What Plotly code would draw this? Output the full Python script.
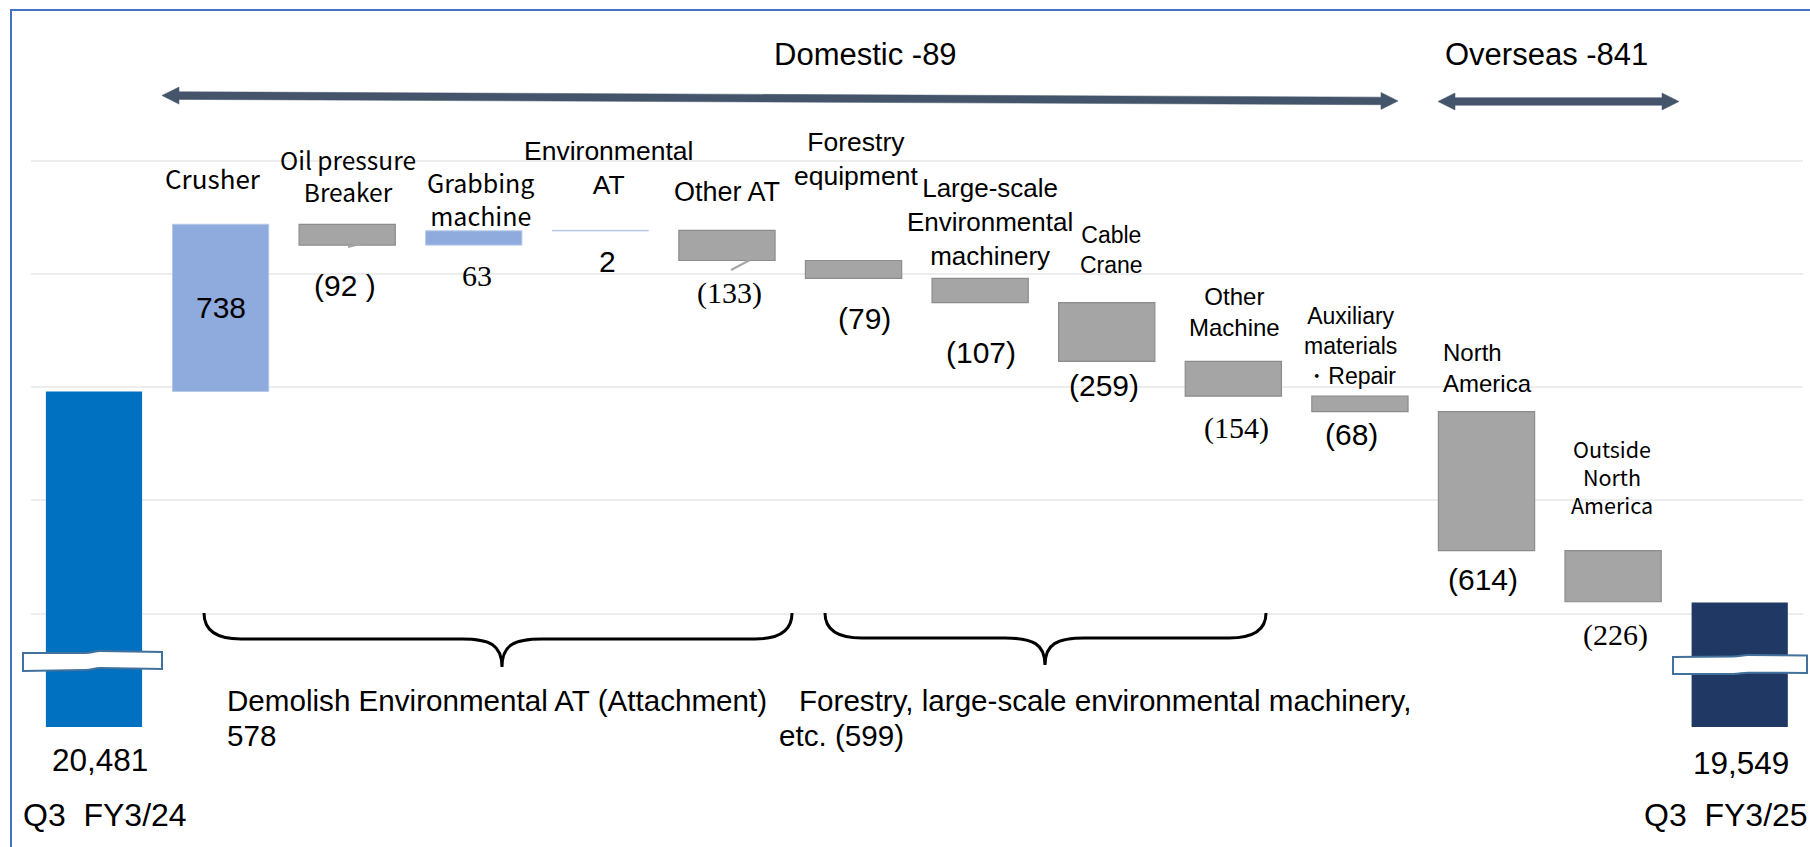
import plotly.graph_objects as go

# ---------------- data ----------------
categories = ["Q3 FY3/24", "Crusher", "Oil pressure Breaker", "Grabbing machine",
              "Environmental AT", "Other AT", "Forestry equipment",
              "Large-scale Environmental machinery", "Cable Crane", "Other Machine",
              "Auxiliary materials・Repair", "North America", "Outside North America",
              "Q3 FY3/25"]
start_value = 20481
end_value = 19549
changes = [738, -92, 63, 2, -133, -79, -107, -259, -154, -68, -614, -226]
top_labels = ["Crusher", "Oil pressure<br>Breaker", "Grabbing<br>machine",
              "Environmental<br>AT", "Other AT", "Forestry<br>equipment",
              "Large-scale<br>Environmental<br>machinery", "Cable<br>Crane",
              "Other<br>Machine", "Auxiliary<br>materials<br>・Repair",
              "North<br>America", "Outside<br>North<br>America"]
value_labels = ["738", "(92 )", "63", "2", "(133)", "(79)", "(107)", "(259)",
                "(154)", "(68)", "(614)", "(226)"]
total_labels = ["20,481", "19,549"]
period_labels = ["Q3  FY3/24", "Q3  FY3/25"]
group_labels = ["Domestic -89", "Overseas -841"]
brace_lines = [["Demolish Environmental AT (Attachment)", "578"],
               ["Forestry, large-scale environmental machinery,", "etc. (599)"]]

# ---------------- styles / layout helpers ----------------
W, H = 1810, 847
SANS = "Liberation Sans, Arial, sans-serif"
SERIF = "Liberation Serif, Times New Roman, serif"
JP = "Noto Sans CJK JP, sans-serif"
C_START, C_UP, C_DOWN, C_END = "#0070C0", "#8FAADC", "#A5A5A5", "#203864"


def px(x):
    return x / W


def py(y):
    return 1 - y / H


def pt(x, y):
    return f"{px(x):.5f},{py(y):.5f}"


# build floating bars from the data
bases, heights, colors, lcolors, lwidths = [0], [start_value], [C_START], [C_START], [0]
tops, bottoms = [], []
running = start_value
for d in changes:
    if d >= 0:
        bases.append(running); heights.append(d)
        colors.append(C_UP); lcolors.append("#b4c7e7"); lwidths.append(1)
    else:
        bases.append(running + d); heights.append(-d)
        colors.append(C_DOWN); lcolors.append("#8c8c8c"); lwidths.append(1.2)
    tops.append(max(running, running + d))
    bottoms.append(min(running, running + d))
    running += d
bases.append(0); heights.append(end_value)
colors.append(C_END); lcolors.append(C_END); lwidths.append(0)

fig = go.Figure()
fig.add_trace(go.Bar(
    x=categories, y=heights, base=bases,
    marker=dict(color=colors, line=dict(color=lcolors, width=lwidths)),
    hoverinfo="skip", showlegend=False,
))

ann = []
# category labels above bars
top_font = [(JP, 26), (JP, 24.5), (JP, 25), (SANS, 26.5), (SANS, 27), (SANS, 26.5),
            (SANS, 26), (SANS, 23), (SANS, 24), (SANS, 23), (SANS, 24), (JP, 21.5)]
top_shift = [47, 49, 32, 62, 38, 102, 56, 53, 49, 50, 44, 74]
top_xshift = [-8, 1, 7, 8, 0, 2, 10, 5, 1, -9, 1, -1]
for i, lab in enumerate(top_labels):
    f, s = top_font[i]
    ann.append(dict(x=categories[i + 1], y=tops[i], xref="x", yref="y", text=lab,
                    showarrow=False, yanchor="middle", yshift=top_shift[i],
                    xshift=top_xshift[i], align="left" if i == 10 else "center",
                    font=dict(family=f, size=s, color="#000000")))

# value labels
val_font = [SANS, SANS, SERIF, SANS, SERIF, SANS, SANS, SANS, SERIF, SANS, SANS, SERIF]
val_shift = [0, 40, 30, 31, 32, 40, 50, 24, 32, 23, 29, 33]
val_xshift = [0, -2, 3, 7, 3, 11, 1, -3, 3, -8, -4, 2]
for i, lab in enumerate(value_labels):
    if i == 0:
        yv = (tops[i] + bottoms[i]) / 2
        ys = 0
    else:
        yv = bottoms[i]
        ys = -val_shift[i]
    ann.append(dict(x=categories[i + 1], y=yv, xref="x", yref="y", text=lab,
                    showarrow=False, yanchor="middle", yshift=ys, xshift=val_xshift[i],
                    font=dict(family=val_font[i], size=30, color="#000000")))

# totals and period labels
ann.append(dict(x=categories[0], y=19000, xref="x", yref="y", text=total_labels[0],
                showarrow=False, yanchor="middle", yshift=-33, xshift=6,
                font=dict(family=SANS, size=31.5, color="#000000")))
ann.append(dict(x=categories[-1], y=19000, xref="x", yref="y", text=total_labels[1],
                showarrow=False, yanchor="middle", yshift=-36, xshift=1,
                font=dict(family=SANS, size=31.5, color="#000000")))
ann.append(dict(x=px(21), y=py(815), xref="paper", yref="paper", text=period_labels[0],
                showarrow=False, xanchor="left", yanchor="middle",
                font=dict(family=SANS, size=32, color="#000000")))
ann.append(dict(x=px(1810), y=py(815), xref="paper", yref="paper", text=period_labels[1],
                showarrow=False, xanchor="right", yanchor="middle",
                font=dict(family=SANS, size=32, color="#000000")))

# group headers
for lab, xc in zip(group_labels, [865, 1546]):
    ann.append(dict(x=px(xc), y=py(54), xref="paper", yref="paper", text=lab,
                    showarrow=False, xanchor="center", yanchor="middle",
                    font=dict(family=SANS, size=31, color="#000000")))

# brace texts
brace_text_pos = [[(225, 700), (225, 735)], [(797, 700), (777, 735)]]
for lines, poss in zip(brace_lines, brace_text_pos):
    for t, (xx, yy) in zip(lines, poss):
        ann.append(dict(x=px(xx), y=py(yy), xref="paper", yref="paper", text=t,
                        showarrow=False, xanchor="left", yanchor="middle",
                        font=dict(family=SANS, size=29.6, color="#000000")))

shapes = []
# outer frame
shapes.append(dict(type="rect", xref="paper", yref="paper", x0=px(11), y0=py(10),
                   x1=px(1830), y1=py(870), line=dict(color="#4472C4", width=2),
                   fillcolor="rgba(0,0,0,0)", layer="below"))


def arrow(x1, y1, x2, y2, t=3.8, h=8.5, L=17):
    import math
    dx, dy = x2 - x1, y2 - y1
    n = math.hypot(dx, dy)
    ux, uy = dx / n, dy / n
    nx, ny = -uy, ux
    p = []
    def add(x, y):
        p.append(pt(x, y))
    add(x1, y1)
    add(x1 + ux * L + nx * h, y1 + uy * L + ny * h)
    add(x1 + ux * L + nx * t, y1 + uy * L + ny * t)
    add(x2 - ux * L + nx * t, y2 - uy * L + ny * t)
    add(x2 - ux * L + nx * h, y2 - uy * L + ny * h)
    add(x2, y2)
    add(x2 - ux * L - nx * h, y2 - uy * L - ny * h)
    add(x2 - ux * L - nx * t, y2 - uy * L - ny * t)
    add(x1 + ux * L - nx * t, y1 + uy * L - ny * t)
    add(x1 + ux * L - nx * h, y1 + uy * L - ny * h)
    return dict(type="path", xref="paper", yref="paper",
                path="M " + " L ".join(p) + " Z",
                fillcolor="#44546A", line=dict(color="#44546A", width=0.5))


shapes.append(arrow(162, 95.5, 1398, 101))
shapes.append(arrow(1438, 101.5, 1679, 101.5))


def brace(xl, xr, xm, yt, ym, ytip, rx=37, k=40):
    d = (f"M {pt(xl, yt)} Q {pt(xl, ym)} {pt(xl + rx, ym)} L {pt(xm - k, ym)} "
         f"C {pt(xm - k * 0.3, ym)} {pt(xm, ym + 6)} {pt(xm, ytip)} "
         f"C {pt(xm, ym + 6)} {pt(xm + k * 0.3, ym)} {pt(xm + k, ym)} "
         f"L {pt(xr - rx, ym)} Q {pt(xr, ym)} {pt(xr, yt)}")
    return dict(type="path", xref="paper", yref="paper", path=d,
                line=dict(color="#000000", width=3))


shapes.append(brace(204, 792, 502, 613, 639, 667))
shapes.append(brace(825, 1266, 1045, 613, 638, 665))

# axis-break symbols
brk1 = (f"M {pt(23, 653)} L {pt(85, 653)} C {pt(92, 653)} {pt(94, 651)} {pt(100, 651)} "
        f"L {pt(162, 652)} L {pt(162, 669)} L {pt(100, 668)} "
        f"C {pt(94, 668)} {pt(92, 670)} {pt(85, 670)} L {pt(23, 671)} Z")
brk2 = (f"M {pt(1673, 657)} L {pt(1733, 656.5)} C {pt(1740, 656.5)} {pt(1742, 655)} {pt(1748, 655)} "
        f"L {pt(1807, 655.5)} L {pt(1807, 673)} L {pt(1748, 672.7)} "
        f"C {pt(1742, 672.7)} {pt(1740, 674)} {pt(1733, 674)} L {pt(1673, 674)} Z")
for b in (brk1, brk2):
    shapes.append(dict(type="path", xref="paper", yref="paper", path=b,
                       fillcolor="#FFFFFF", line=dict(color="#41719C", width=2)))

# small leader lines
shapes.append(dict(type="line", xref="paper", yref="paper", x0=px(348), y0=py(247),
                   x1=px(360), y1=py(244), line=dict(color="#A5A5A5", width=2)))
shapes.append(dict(type="line", xref="paper", yref="paper", x0=px(750), y0=py(260),
                   x1=px(731), y1=py(270), line=dict(color="#A5A5A5", width=2)))

fig.update_layout(
    width=W, height=H,
    margin=dict(l=0, r=0, t=0, b=0),
    paper_bgcolor="white", plot_bgcolor="white",
    bargap=0.24,
    xaxis=dict(domain=[30.7 / W, 1803 / W], type="category", showticklabels=False,
               showgrid=False, zeroline=False, showline=False, ticks=""),
    yaxis=dict(domain=[(H - 727) / H, (H - 138) / H], range=[18999, 21600],
               tick0=19000, dtick=500, showticklabels=False, showgrid=True,
               gridcolor="#EDEDED", gridwidth=2, zeroline=False, showline=False),
    annotations=ann,
    shapes=shapes,
    showlegend=False,
)

fig.write_html("out.html",
               config={"displayModeBar": False},
               post_script="document.body.style.margin='0';"
                           "document.body.style.overflow='hidden';")
